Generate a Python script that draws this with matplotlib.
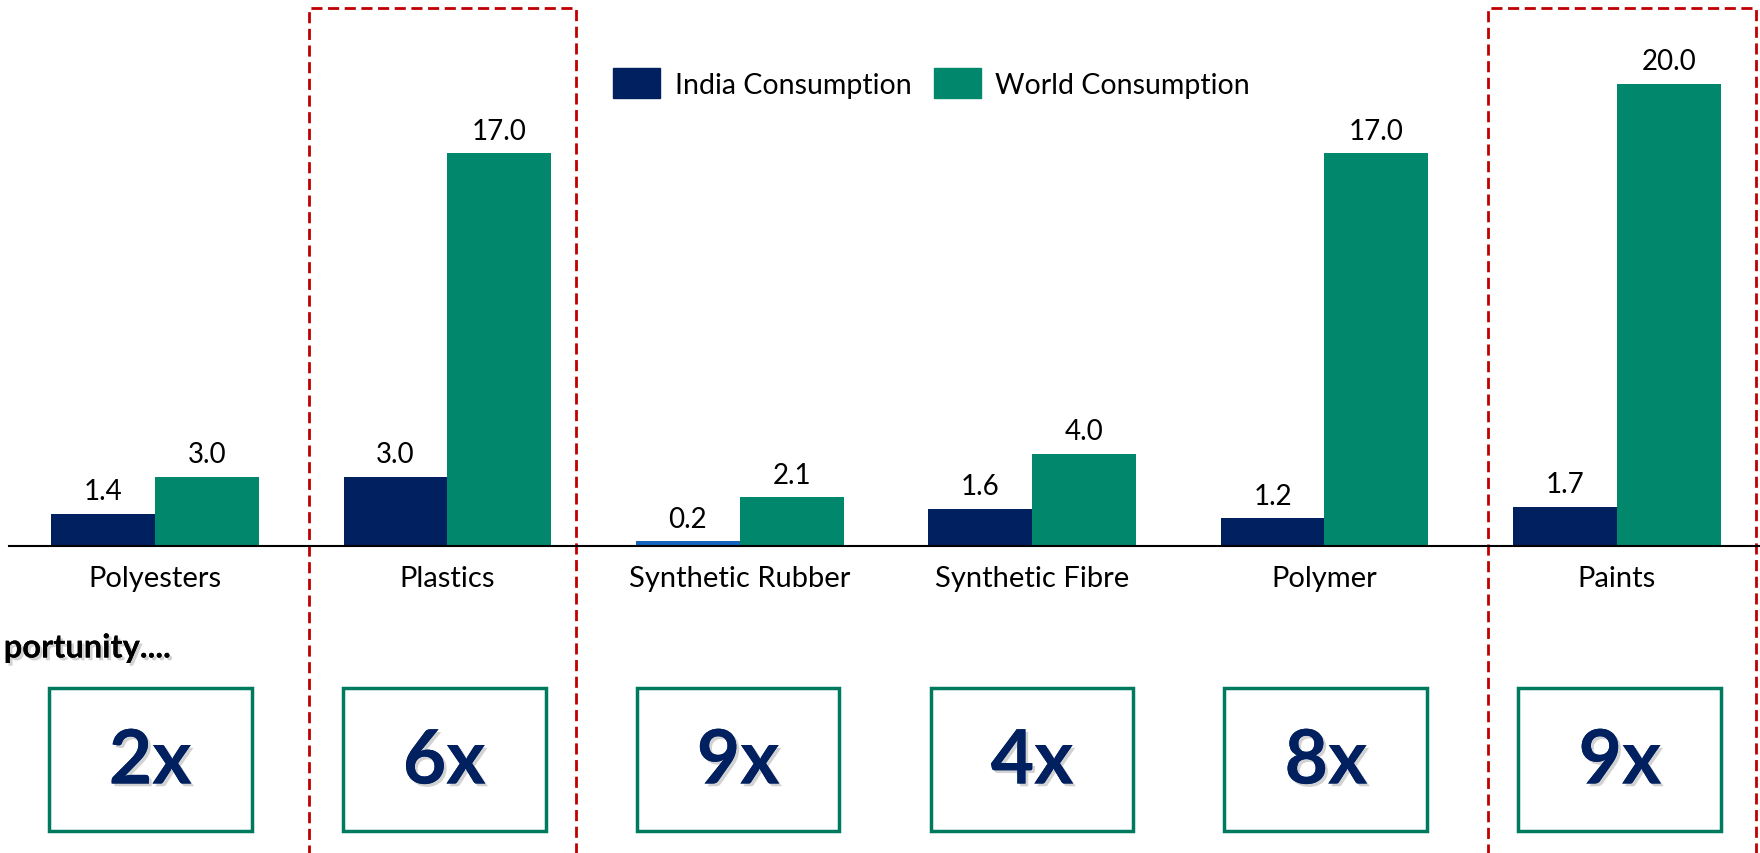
import matplotlib
matplotlib.use("Agg")
import matplotlib.pyplot as plt
from matplotlib.patches import Rectangle
import matplotlib.patheffects as pe

categories = ["Polyesters", "Plastics", "Synthetic Rubber", "Synthetic Fibre", "Polymer", "Paints"]
india = [1.4, 3.0, 0.2, 1.6, 1.2, 1.7]
world = [3.0, 17.0, 2.1, 4.0, 17.0, 20.0]
multiples = ["2x", "6x", "9x", "4x", "8x", "9x"]
highlight = ["Plastics", "Paints"]

NAVY = "#002060"
LIGHTBLUE = "#1565C0"
GREEN = "#00876C"
RED = "#C00000"
BOXGREEN = "#007A5E"

plt.rcParams['font.family'] = ['Lato', 'DejaVu Sans']

W, H = 1760, 854
fig = plt.figure(figsize=(W/100, H/100), dpi=100)
ax = fig.add_axes([9/W, (H-547)/H, 1-9/W, 547/H])

x = list(range(len(categories)))
bw = 0.355
india_colors = [LIGHTBLUE if v < 0.5 else NAVY for v in india]
b1 = ax.bar([i - bw/2 for i in x], india, bw, color=india_colors, label="India Consumption")
b2 = ax.bar([i + bw/2 for i in x], world, bw, color=GREEN, label="World Consumption")

for bars, vals in ((b1, india), (b2, world)):
    for r, v in zip(bars, vals):
        ax.annotate(f"{v:.1f}", (r.get_x() + r.get_width()/2, v), xytext=(0, 7),
                    textcoords="offset points", ha="center", va="bottom", fontsize=20)

ax.set_xlim(-0.5, 5.49)
ax.set_ylim(0, 547/23.1)
ax.set_xticks(x)
ax.set_xticklabels(categories, fontsize=21)
ax.tick_params(axis='x', length=0, pad=14)
ax.set_yticks([])
for s in ("top", "right", "left"):
    ax.spines[s].set_visible(False)
ax.spines["bottom"].set_linewidth(1.5)
ax.spines["bottom"].set_color("black")

h = [Rectangle((0, 0), 1, 1, color=NAVY), Rectangle((0, 0), 1, 1, color=GREEN)]
leg = ax.legend(h, ["India Consumption", "World Consumption"], loc="center",
                bbox_to_anchor=(0.527, 0.846), ncol=2, frameon=False, fontsize=20.5,
                handlelength=1.65, handleheight=1.25, columnspacing=0.8, handletextpad=0.5)

# red dashed highlight boxes
red_ext = {"Plastics": (0.475, 0.44), "Paints": (0.44, 0.475)}
for i, c in enumerate(categories):
    if c in highlight:
        l, r = red_ext[c]
        ax.add_patch(Rectangle((i - l, -20), l + r, 20 + 538/23.1, fill=False,
                               edgecolor=RED, linestyle=(0, (4, 2)), linewidth=2.0,
                               clip_on=False))

shadow = [pe.withSimplePatchShadow(offset=(2, -2), alpha=0.35, shadow_rgbFace="gray"), pe.Normal()]
# multiplier boxes
for i, m in enumerate(multiples):
    cx = -0.017 + i * 1.0055
    ax.add_patch(Rectangle((cx - 0.347, (547-832)/23.1), 0.694, (832-689)/23.1,
                           fill=False, edgecolor=BOXGREEN, linewidth=2.5, clip_on=False))
    ax.text(cx, (547-763)/23.1, m, ha="center", va="center", fontsize=54,
            fontweight="bold", color=NAVY, path_effects=shadow, clip_on=False)

fig.text(171/W, 1 - 649/H, "portunity....", ha="right", va="center", fontsize=23.5,
         fontweight="bold", color="black", path_effects=shadow)

fig.savefig("out.png", dpi=100)
